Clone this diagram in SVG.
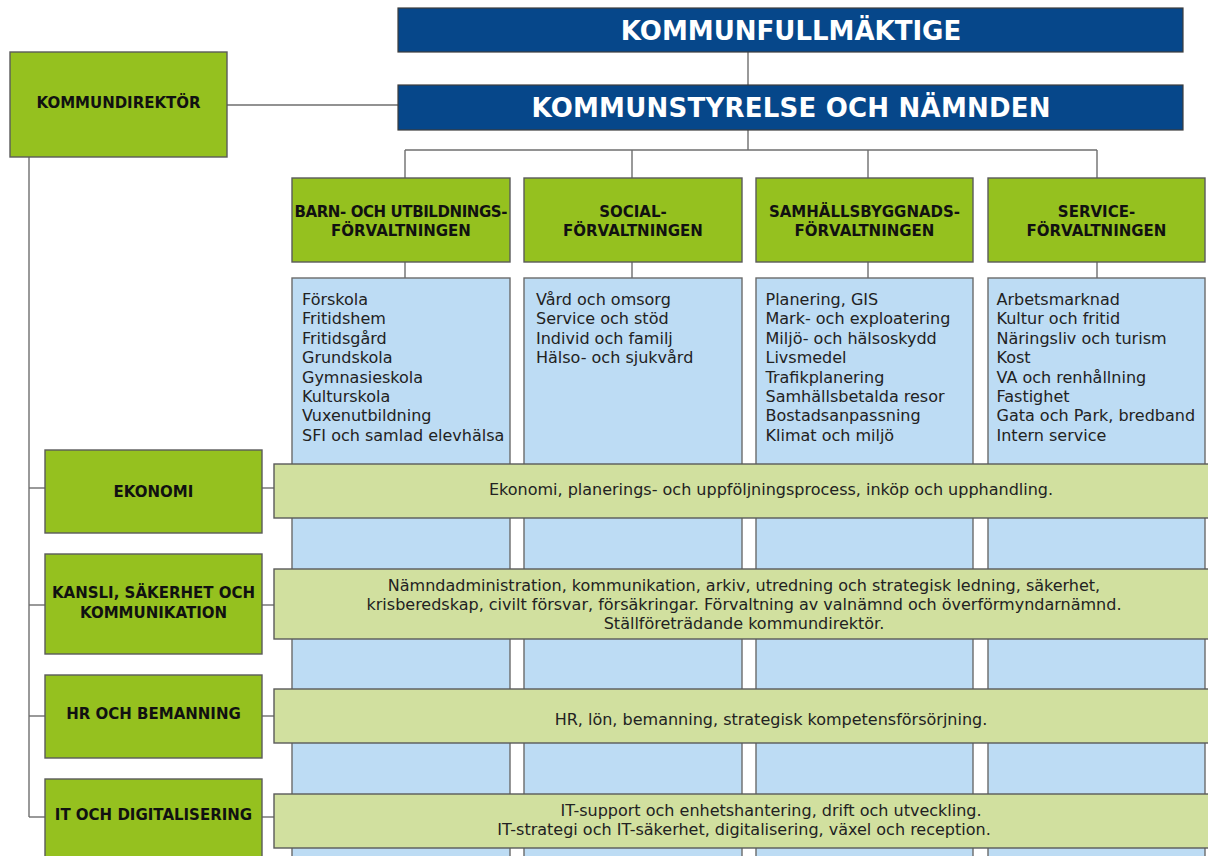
<svg xmlns="http://www.w3.org/2000/svg" width="1208" height="856" viewBox="0 0 1208 856">
<style>
  .bg{fill:#ffffff}
  .top{fill:#06478a;stroke:#3d3d3d;stroke-width:1.2}
  .grn{fill:#95c11f;stroke:#5b5b5b;stroke-width:1.4}
  .blu{fill:#bddcf4;stroke:#6b6b6b;stroke-width:1.4}
  .bar{fill:#d1e09f;stroke:#5b5b5b;stroke-width:1.4}
  .ln{fill:none;stroke:#6e6e6e;stroke-width:1.4}
  .tt{font-family:"DejaVu Sans",sans-serif;font-weight:bold;font-size:26px;fill:#ffffff;text-anchor:middle}
  .hd{font-family:"DejaVu Sans",sans-serif;font-weight:bold;font-size:15px;fill:#111111;text-anchor:middle}
  .tx{font-family:"DejaVu Sans",sans-serif;font-size:16px;fill:#222222}
  .tc{font-family:"DejaVu Sans",sans-serif;font-size:16px;fill:#222222;text-anchor:middle}
</style>
<rect class="bg" x="0" y="0" width="1208" height="856"/>

<g id="connectors">
  <line class="ln" x1="748" y1="52" x2="748" y2="85"/>
  <line class="ln" x1="227" y1="105" x2="398" y2="105"/>
  <line class="ln" x1="748" y1="130" x2="748" y2="150"/>
  <line class="ln" x1="405" y1="150" x2="1097" y2="150"/>
  <line class="ln" x1="405" y1="150" x2="405" y2="178"/>
  <line class="ln" x1="632" y1="150" x2="632" y2="178"/>
  <line class="ln" x1="868" y1="150" x2="868" y2="178"/>
  <line class="ln" x1="1097" y1="150" x2="1097" y2="178"/>
  <line class="ln" x1="405" y1="262" x2="405" y2="278"/>
  <line class="ln" x1="632" y1="262" x2="632" y2="278"/>
  <line class="ln" x1="868" y1="262" x2="868" y2="278"/>
  <line class="ln" x1="1097" y1="262" x2="1097" y2="278"/>
  <line class="ln" x1="29" y1="157" x2="29" y2="817"/>
  <line class="ln" x1="29" y1="488" x2="45" y2="488"/>
  <line class="ln" x1="29" y1="605" x2="45" y2="605"/>
  <line class="ln" x1="29" y1="716" x2="45" y2="716"/>
  <line class="ln" x1="29" y1="817" x2="45" y2="817"/>
  <line class="ln" x1="262" y1="488" x2="274" y2="488"/>
  <line class="ln" x1="262" y1="605" x2="274" y2="605"/>
  <line class="ln" x1="262" y1="716" x2="274" y2="716"/>
  <line class="ln" x1="262" y1="817" x2="274" y2="817"/>
</g>

<g id="kommunfullmaktige">
  <rect class="top" x="398" y="8" width="785" height="44"/>
  <text class="tt" x="791" y="40">KOMMUNFULLMÄKTIGE</text>
</g>
<g id="kommunstyrelse">
  <rect class="top" x="398" y="85" width="785" height="45"/>
  <text class="tt" x="791" y="117" textLength="519">KOMMUNSTYRELSE OCH NÄMNDEN</text>
</g>
<g id="kommundirektor">
  <rect class="grn" x="10" y="52" width="217" height="105"/>
  <text class="hd" x="118.5" y="108" textLength="164">KOMMUNDIREKTÖR</text>
</g>

<g id="barn-utbildning">
  <rect class="grn" x="292" y="178" width="218" height="84"/>
  <text class="hd" x="401" y="217" textLength="213">BARN- OCH UTBILDNINGS-</text>
  <text class="hd" x="401" y="236">FÖRVALTNINGEN</text>
</g>
<g id="social">
  <rect class="grn" x="524" y="178" width="218" height="84"/>
  <text class="hd" x="633" y="217">SOCIAL-</text>
  <text class="hd" x="633" y="236">FÖRVALTNINGEN</text>
</g>
<g id="samhallsbyggnad">
  <rect class="grn" x="756" y="178" width="217" height="84"/>
  <text class="hd" x="864.5" y="217">SAMHÄLLSBYGGNADS-</text>
  <text class="hd" x="864.5" y="236">FÖRVALTNINGEN</text>
</g>
<g id="service">
  <rect class="grn" x="988" y="178" width="217" height="84"/>
  <text class="hd" x="1096.5" y="217">SERVICE-</text>
  <text class="hd" x="1096.5" y="236">FÖRVALTNINGEN</text>
</g>

<g id="barn-utbildning-lista">
  <rect class="blu" x="292" y="278" width="218" height="600"/>
  <text class="tx" x="302" y="305">Förskola</text>
  <text class="tx" x="302" y="324.4">Fritidshem</text>
  <text class="tx" x="302" y="343.8">Fritidsgård</text>
  <text class="tx" x="302" y="363.2">Grundskola</text>
  <text class="tx" x="302" y="382.6">Gymnasieskola</text>
  <text class="tx" x="302" y="402">Kulturskola</text>
  <text class="tx" x="302" y="421.4">Vuxenutbildning</text>
  <text class="tx" x="302" y="440.8">SFI och samlad elevhälsa</text>
</g>
<g id="social-lista">
  <rect class="blu" x="524" y="278" width="218" height="600"/>
  <text class="tx" x="536" y="305">Vård och omsorg</text>
  <text class="tx" x="536" y="324.4">Service och stöd</text>
  <text class="tx" x="536" y="343.8">Individ och familj</text>
  <text class="tx" x="536" y="363.2">Hälso- och sjukvård</text>
</g>
<g id="samhallsbyggnad-lista">
  <rect class="blu" x="756" y="278" width="217" height="600"/>
  <text class="tx" x="765.5" y="305">Planering, GIS</text>
  <text class="tx" x="765.5" y="324.4">Mark- och exploatering</text>
  <text class="tx" x="765.5" y="343.8">Miljö- och hälsoskydd</text>
  <text class="tx" x="765.5" y="363.2">Livsmedel</text>
  <text class="tx" x="765.5" y="382.6">Trafikplanering</text>
  <text class="tx" x="765.5" y="402">Samhällsbetalda resor</text>
  <text class="tx" x="765.5" y="421.4">Bostadsanpassning</text>
  <text class="tx" x="765.5" y="440.8">Klimat och miljö</text>
</g>
<g id="service-lista">
  <rect class="blu" x="988" y="278" width="217" height="600"/>
  <text class="tx" x="996.5" y="305">Arbetsmarknad</text>
  <text class="tx" x="996.5" y="324.4">Kultur och fritid</text>
  <text class="tx" x="996.5" y="343.8">Näringsliv och turism</text>
  <text class="tx" x="996.5" y="363.2">Kost</text>
  <text class="tx" x="996.5" y="382.6">VA och renhållning</text>
  <text class="tx" x="996.5" y="402">Fastighet</text>
  <text class="tx" x="996.5" y="421.4">Gata och Park, bredband</text>
  <text class="tx" x="996.5" y="440.8">Intern service</text>
</g>

<g id="ekonomi">
  <rect class="grn" x="45" y="450" width="217" height="83"/>
  <text class="hd" x="153.5" y="497">EKONOMI</text>
</g>
<g id="ekonomi-uppdrag">
  <rect class="bar" x="274" y="464" width="950" height="54"/>
  <text class="tc" x="771" y="495">Ekonomi, planerings- och uppföljningsprocess, inköp och upphandling.</text>
</g>

<g id="kansli">
  <rect class="grn" x="45" y="554" width="217" height="100"/>
  <text class="hd" x="153.5" y="598">KANSLI, SÄKERHET OCH</text>
  <text class="hd" x="153.5" y="618">KOMMUNIKATION</text>
</g>
<g id="kansli-uppdrag">
  <rect class="bar" x="274" y="569" width="950" height="70"/>
  <text class="tc" x="744" y="591">Nämndadministration, kommunikation, arkiv, utredning och strategisk ledning, säkerhet,</text>
  <text class="tc" x="744" y="610">krisberedskap, civilt försvar, försäkringar. Förvaltning av valnämnd och överförmyndarnämnd.</text>
  <text class="tc" x="744" y="629">Ställföreträdande kommundirektör.</text>
</g>

<g id="hr">
  <rect class="grn" x="45" y="675" width="217" height="83"/>
  <text class="hd" x="153.5" y="719">HR OCH BEMANNING</text>
</g>
<g id="hr-uppdrag">
  <rect class="bar" x="274" y="689" width="950" height="54"/>
  <text class="tc" x="771" y="725">HR, lön, bemanning, strategisk kompetensförsörjning.</text>
</g>

<g id="it">
  <rect class="grn" x="45" y="779" width="217" height="100"/>
  <text class="hd" x="153.5" y="820">IT OCH DIGITALISERING</text>
</g>
<g id="it-uppdrag">
  <rect class="bar" x="274" y="794" width="950" height="54"/>
  <text class="tc" x="771" y="816">IT-support och enhetshantering, drift och utveckling.</text>
  <text class="tc" x="744" y="835">IT-strategi och IT-säkerhet, digitalisering, växel och reception.</text>
</g>
</svg>
